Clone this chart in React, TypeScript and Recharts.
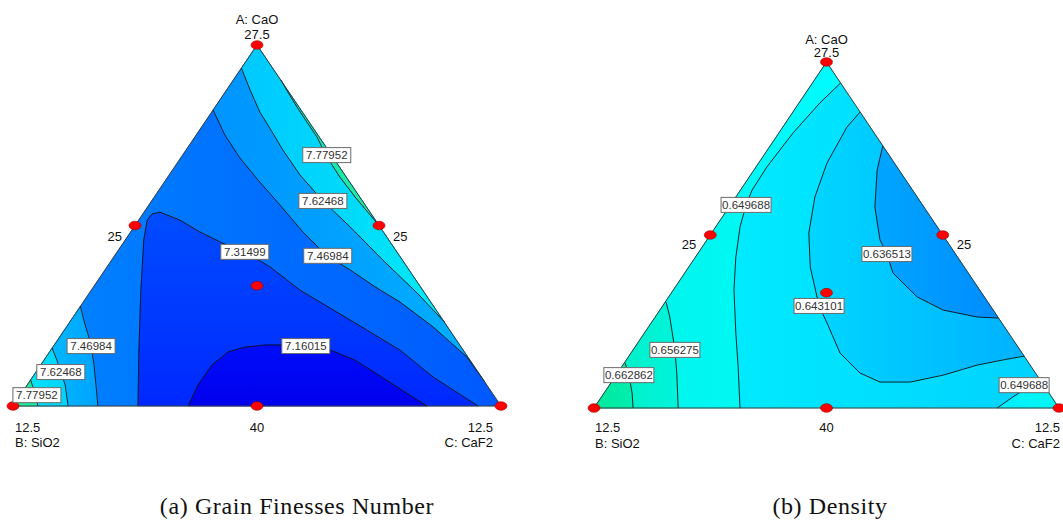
import React from 'react'
import { ScatterChart, Scatter, XAxis, YAxis } from 'recharts'

type Pt = { x: number; y: number }
type Tag = Pt & { text: string }

const pts = (rows: number[][]): Pt[] => rows.map(([x, y]) => ({ x, y }))

// simplex corners in plot units (x across, y up)
const APEX: Pt = { x: 0.5, y: 1 }
const LEFT: Pt = { x: 0, y: 0 }
const RIGHT: Pt = { x: 1, y: 0 }
const TRIANGLE = [LEFT, RIGHT, APEX]

// design runs: vertices, edge midpoints, centroid
const designRuns = pts([[0.5, 1], [0, 0], [1, 0], [0.25, 0.5], [0.75, 0.5], [0.5, 0], [0.5, 1 / 3]])

// --- (a) grain fineness number contours ---
const gfn779Top = pts([[0.549, 0.903], [0.563, 0.87], [0.582, 0.828], [0.602, 0.787], [0.623, 0.745], [0.643, 0.69], [0.67, 0.634], [0.701, 0.579], [0.727, 0.537], [0.75, 0.5]])
const gfn762Top = pts([[0.468, 0.936], [0.486, 0.875], [0.506, 0.814], [0.531, 0.759], [0.553, 0.709], [0.588, 0.64], [0.635, 0.568], [0.691, 0.496], [0.758, 0.404], [0.828, 0.313], [0.884, 0.233]])
const gfn747Top = pts([[0.41, 0.82], [0.434, 0.751], [0.465, 0.687], [0.502, 0.626], [0.547, 0.557], [0.594, 0.482], [0.643, 0.416], [0.691, 0.377], [0.742, 0.33], [0.793, 0.288], [0.861, 0.219], [0.93, 0.136], [0.967, 0.066]])
const gfn731 = pts([[0.256, 0], [0.258, 0.155], [0.262, 0.321], [0.268, 0.46], [0.275, 0.515], [0.285, 0.532], [0.301, 0.537], [0.342, 0.515], [0.383, 0.482], [0.428, 0.452], [0.475, 0.427], [0.527, 0.385], [0.588, 0.321], [0.691, 0.238], [0.793, 0.155], [0.861, 0.08], [0.953, 0]])
const gfn716 = pts([[0.359, 0], [0.379, 0.058], [0.408, 0.114], [0.441, 0.15], [0.475, 0.163], [0.516, 0.169], [0.557, 0.169], [0.6, 0.166], [0.65, 0.155], [0.701, 0.127], [0.758, 0.078], [0.803, 0.039], [0.848, 0]])
const gfn747Low = pts([[0.138, 0.277], [0.145, 0.238], [0.154, 0.197], [0.16, 0.166], [0.166, 0.114], [0.17, 0.058], [0.174, 0]])
const gfn762Low = pts([[0.08, 0.161], [0.09, 0.127], [0.098, 0.094], [0.107, 0.058], [0.113, 0]])
const gfn779Low = pts([[0.036, 0.072], [0.043, 0.044], [0.047, 0.022], [0.051, 0]])

const gfnTags: Tag[] = [
  { x: 0.643, y: 0.695, text: '7.77952' },
  { x: 0.635, y: 0.568, text: '7.62468' },
  { x: 0.645, y: 0.416, text: '7.46984' },
  { x: 0.475, y: 0.427, text: '7.31499' },
  { x: 0.6, y: 0.166, text: '7.16015' },
  { x: 0.16, y: 0.166, text: '7.46984' },
  { x: 0.098, y: 0.094, text: '7.62468' },
  { x: 0.049, y: 0.03, text: '7.77952' },
]

// --- (b) density contours ---
const den650Left = pts([[0.53, 0.939], [0.486, 0.882], [0.428, 0.795], [0.372, 0.697], [0.34, 0.63], [0.327, 0.587], [0.314, 0.523], [0.305, 0.436], [0.301, 0.341], [0.305, 0.217], [0.31, 0.118], [0.314, 0]])
const den643 = pts([[0.572, 0.855], [0.544, 0.812], [0.501, 0.708], [0.475, 0.61], [0.462, 0.506], [0.465, 0.408], [0.484, 0.295], [0.501, 0.246], [0.529, 0.159], [0.572, 0.101], [0.615, 0.075], [0.68, 0.075], [0.751, 0.095], [0.824, 0.124], [0.88, 0.139], [0.925, 0.15]])
const den637 = pts([[0.621, 0.757], [0.609, 0.688], [0.604, 0.581], [0.615, 0.486], [0.63, 0.445], [0.643, 0.39], [0.695, 0.321], [0.751, 0.283], [0.824, 0.263], [0.87, 0.26]])
const den656 = pts([[0.155, 0.306], [0.163, 0.263], [0.174, 0.168], [0.178, 0.101], [0.181, 0]])
const den663 = pts([[0.067, 0.13], [0.075, 0.095], [0.082, 0.043], [0.084, 0]])
const den650Right = pts([[0.867, 0], [0.901, 0.032], [0.931, 0.058], [0.964, 0.072]])

const denTags: Tag[] = [
  { x: 0.327, y: 0.587, text: '0.649688' },
  { x: 0.63, y: 0.445, text: '0.636513' },
  { x: 0.484, y: 0.295, text: '0.643101' },
  { x: 0.174, y: 0.168, text: '0.656275' },
  { x: 0.075, y: 0.095, text: '0.662862' },
  { x: 0.925, y: 0.066, text: '0.649688' },
]

type Band = { id: string; points: Pt[]; c0: string; c1: string; dir?: 'h' | 'v' }

const gfnBands: Band[] = [
  { id: 'g0', points: TRIANGLE, c0: '#0086ff', c1: '#0058ff' },
  { id: 'g1', points: [...gfn747Top, APEX], c0: '#0094ff', c1: '#00b0ff' },
  { id: 'g2', points: [...gfn762Top, APEX], c0: '#00c8ff', c1: '#00eaf6' },
  { id: 'g3', points: gfn779Top, c0: '#00ecc8', c1: '#2ae89c' },
  { id: 'g4', points: [...gfn747Low, LEFT], c0: '#00ccff', c1: '#00a2ff' },
  { id: 'g5', points: [...gfn762Low, LEFT], c0: '#00eaf2', c1: '#00d2ff' },
  { id: 'g6', points: [...gfn779Low, LEFT], c0: '#30e890', c1: '#10eeb0' },
  { id: 'g7', points: gfn731, c0: '#004cff', c1: '#0028ff', dir: 'v' },
  { id: 'g8', points: gfn716, c0: '#000cf8', c1: '#0000ee', dir: 'v' },
]

const denBands: Band[] = [
  { id: 'd0', points: TRIANGLE, c0: '#00f6ff', c1: '#00d0ff' },
  { id: 'd1', points: [...den650Left, LEFT, APEX], c0: '#00f2e4', c1: '#00fcff' },
  { id: 'd2', points: [...den656, LEFT], c0: '#00eebe', c1: '#00f4dc' },
  { id: 'd3', points: [...den663, LEFT], c0: '#00e898', c1: '#00eeb2' },
  { id: 'd4', points: [...den650Right, RIGHT], c0: '#00eefc', c1: '#00f8f4' },
  { id: 'd5', points: den643, c0: '#00d6ff', c1: '#00b2ff' },
  { id: 'd6', points: den637, c0: '#00a6ff', c1: '#008cff' },
]

type Note = { at: Pt; text: string; dx: number; dy: number; anchor: 'start' | 'middle' | 'end' }

const gfnNotes: Note[] = [
  { at: APEX, text: 'A: CaO', dx: 0, dy: -21, anchor: 'middle' },
  { at: APEX, text: '27.5', dx: 0, dy: -6, anchor: 'middle' },
  { at: { x: 0.25, y: 0.5 }, text: '25', dx: -13, dy: 15, anchor: 'end' },
  { at: { x: 0.75, y: 0.5 }, text: '25', dx: 14, dy: 15, anchor: 'start' },
  { at: LEFT, text: '12.5', dx: 2, dy: 26, anchor: 'start' },
  { at: LEFT, text: 'B: SiO2', dx: 2, dy: 41, anchor: 'start' },
  { at: { x: 0.5, y: 0 }, text: '40', dx: 0, dy: 26, anchor: 'middle' },
  { at: RIGHT, text: '12.5', dx: -8, dy: 26, anchor: 'end' },
  { at: RIGHT, text: 'C: CaF2', dx: -8, dy: 41, anchor: 'end' },
]

const denNotes: Note[] = [
  { at: APEX, text: 'A: CaO', dx: 0, dy: -18, anchor: 'middle' },
  { at: APEX, text: '27.5', dx: 0, dy: -5, anchor: 'middle' },
  { at: { x: 0.25, y: 0.5 }, text: '25', dx: -14, dy: 14, anchor: 'end' },
  { at: { x: 0.75, y: 0.5 }, text: '25', dx: 14, dy: 14, anchor: 'start' },
  { at: LEFT, text: '12.5', dx: 1, dy: 24, anchor: 'start' },
  { at: LEFT, text: 'B: SiO2', dx: 1, dy: 40, anchor: 'start' },
  { at: { x: 0.5, y: 0 }, text: '40', dx: 0, dy: 24, anchor: 'middle' },
  { at: RIGHT, text: '12.5', dx: 1, dy: 24, anchor: 'end' },
  { at: RIGHT, text: 'C: CaF2', dx: 1, dy: 40, anchor: 'end' },
]

const FONT = '"Liberation Sans", Arial, sans-serif'
const noShape = () => <g />

const toStr = (p: any) => (p.points || []).map((q: any) => `${q.x},${q.y}`).join(' ')

const bandLine = (b: Band) => (p: any) => (
  <g>
    <defs>
      <linearGradient id={b.id} x1="0" y1="0" x2={b.dir === 'v' ? 0 : 1} y2={b.dir === 'v' ? 1 : 0}>
        <stop offset="0%" stopColor={b.c0} />
        <stop offset="100%" stopColor={b.c1} />
      </linearGradient>
    </defs>
    <polygon points={toStr(p)} fill={`url(#${b.id})`} stroke={b.c0} strokeWidth={0.4} />
  </g>
)

const contourLine = (p: any) => (
  <polyline points={toStr(p)} fill="none" stroke="#111" strokeWidth={0.9} />
)

const outline = (p: any) => (
  <polygon points={toStr(p)} fill="none" stroke="#3a3a3a" strokeWidth={1} />
)

const redDot = (p: any) => (
  <ellipse cx={p.cx} cy={p.cy} rx={6} ry={4.3} fill="#ff0000" stroke="#9a0000" strokeWidth={0.6} />
)

const tagBox = (w: number) => (p: any) => (
  <g>
    <rect x={p.cx - w / 2} y={p.cy - 7.5} width={w} height={15} fill="#fff" stroke="#6a6a6a" strokeWidth={1} />
    <text x={p.cx} y={p.cy + 4} textAnchor="middle" fontSize={11.5} fontFamily={FONT} fill="#333">
      {p.payload.text}
    </text>
  </g>
)

const noteText = (p: any) => {
  const n = p.payload as Note & Pt
  return (
    <text x={p.cx + n.dx} y={p.cy + n.dy} textAnchor={n.anchor} fontSize={13} fontFamily={FONT} fill="#111">
      {n.text}
    </text>
  )
}

interface TernaryProps {
  left: number
  width: number
  margin: { top: number; right: number; bottom: number; left: number }
  bands: Band[]
  contours: Pt[][]
  tags: Tag[]
  tagWidth: number
  notes: Note[]
}

const TernaryPlot: React.FC<TernaryProps> = ({ left, width, margin, bands, contours, tags, tagWidth, notes }) => (
  <div style={{ position: 'absolute', left, top: 0 }}>
    <ScatterChart width={width} height={470} margin={margin}>
      <XAxis type="number" dataKey="x" domain={[0, 1]} hide />
      <YAxis type="number" dataKey="y" domain={[0, 1]} hide />
      {bands.map(b => (
        <Scatter key={b.id} data={b.points} line={bandLine(b)} shape={noShape} isAnimationActive={false} />
      ))}
      {contours.map((c, i) => (
        <Scatter key={'c' + i} data={c} line={contourLine} shape={noShape} isAnimationActive={false} />
      ))}
      <Scatter data={TRIANGLE} line={outline} shape={noShape} isAnimationActive={false} />
      <Scatter data={designRuns} shape={redDot} isAnimationActive={false} />
      <Scatter data={tags} shape={tagBox(tagWidth)} isAnimationActive={false} />
      <Scatter data={notes.map(n => ({ ...n, x: n.at.x, y: n.at.y }))} shape={noteText} isAnimationActive={false} />
    </ScatterChart>
  </div>
)

const captionStyle: React.CSSProperties = {
  position: 'absolute',
  top: 493,
  fontFamily: '"Liberation Serif", "Times New Roman", serif',
  fontSize: 24,
  letterSpacing: 0.6,
  color: '#111',
  whiteSpace: 'nowrap',
  transform: 'translateX(-50%)',
}

export default function App() {
  return (
    <div style={{ position: 'absolute', left: 0, top: 0, width: 1063, height: 524, background: '#fff', overflow: 'hidden' }}>
      <TernaryPlot
        left={0}
        width={530}
        margin={{ top: 45, right: 29, bottom: 64, left: 13 }}
        bands={gfnBands}
        contours={[gfn779Top, gfn762Top, gfn747Top, gfn731, gfn716, gfn747Low, gfn762Low, gfn779Low]}
        tags={gfnTags}
        tagWidth={48}
        notes={gfnNotes}
      />
      <TernaryPlot
        left={540}
        width={523}
        margin={{ top: 62, right: 4, bottom: 62, left: 54 }}
        bands={denBands}
        contours={[den650Left, den643, den637, den656, den663, den650Right]}
        tags={denTags}
        tagWidth={50}
        notes={denNotes}
      />
      <div style={{ ...captionStyle, left: 297 }}>(a) Grain Finesses Number</div>
      <div style={{ ...captionStyle, left: 830 }}>(b) Density</div>
    </div>
  )
}
